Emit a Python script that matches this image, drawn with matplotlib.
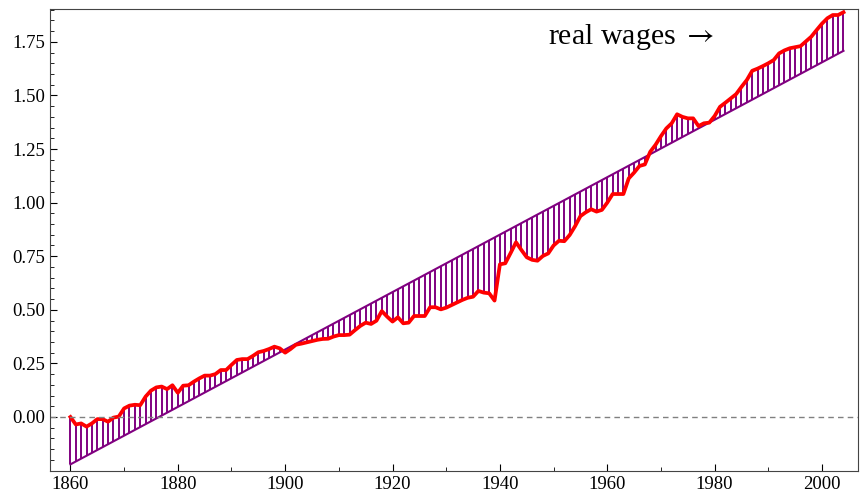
import numpy as np
import matplotlib.pyplot as plt
from matplotlib.ticker import MultipleLocator, FixedLocator

# log real wages (1860-2004)
years = np.arange(1860, 2005)
wages = [
    0.000, -0.035, -0.030, -0.045, -0.030, -0.010, -0.010, -0.022, -0.003, 0.002,
    0.040, 0.053, 0.057, 0.055, 0.095, 0.123, 0.138, 0.142, 0.130, 0.148,
    0.113, 0.146, 0.148, 0.165, 0.180, 0.193, 0.193, 0.200, 0.219, 0.219,
    0.243, 0.266, 0.270, 0.270, 0.285, 0.302, 0.308, 0.317, 0.328, 0.320,
    0.300, 0.317, 0.337, 0.342, 0.348, 0.354, 0.360, 0.364, 0.365, 0.375,
    0.382, 0.382, 0.384, 0.405, 0.425, 0.440, 0.434, 0.449, 0.494, 0.468,
    0.445, 0.465, 0.437, 0.440, 0.471, 0.471, 0.471, 0.512, 0.512, 0.502,
    0.510, 0.522, 0.534, 0.546, 0.556, 0.561, 0.588, 0.580, 0.577, 0.543,
    0.712, 0.717, 0.765, 0.815, 0.779, 0.745, 0.733, 0.729, 0.751, 0.763,
    0.800, 0.822, 0.820, 0.849, 0.890, 0.937, 0.955, 0.969, 0.958, 0.966,
    1.000, 1.040, 1.040, 1.040, 1.113, 1.140, 1.171, 1.178, 1.237, 1.270,
    1.310, 1.346, 1.370, 1.412, 1.400, 1.393, 1.393, 1.357, 1.370, 1.373,
    1.404, 1.447, 1.466, 1.486, 1.506, 1.540, 1.572, 1.615, 1.625, 1.637,
    1.650, 1.665, 1.696, 1.710, 1.720, 1.725, 1.730, 1.752, 1.774, 1.805,
    1.835, 1.860, 1.875, 1.875, 1.888,
]
trend_years = [1860, 2004]
trend_vals = [-0.221, 1.708]
ytick_vals = [0.0, 0.25, 0.5, 0.75, 1.0, 1.25, 1.5, 1.75]

plt.rcParams['font.family'] = ['Liberation Serif', 'DejaVu Serif']
plt.rcParams['mathtext.fontset'] = 'stix'

fig = plt.figure(figsize=(8.61, 4.93), dpi=100)
ax = fig.add_axes([0.0581, 0.0446, 0.9384, 0.9371])

trend = np.interp(years, trend_years, trend_vals)
ax.vlines(years, trend, wages, color='purple', lw=1.4)
ax.plot(trend_years, trend_vals, color='purple', lw=1.5)
ax.plot(years, wages, color='red', lw=2.7, solid_joinstyle='round')
ax.axhline(0, color='gray', ls='--', lw=1, dashes=(4, 3))

ax.text(1949, 1.772, 'real wages $\\rightarrow$', fontsize=21.5, va='center', ha='left')

ax.set_xlim(1856.2, 2006.7)
ax.set_ylim(-0.252, 1.903)
ax.xaxis.set_major_locator(MultipleLocator(20))
ax.xaxis.set_minor_locator(MultipleLocator(10))
ax.yaxis.set_major_locator(FixedLocator(ytick_vals))
ax.yaxis.set_minor_locator(MultipleLocator(0.05))
ax.yaxis.set_major_formatter(plt.FuncFormatter(lambda v, p: f'{v:.2f}'))
ax.tick_params(which='both', direction='in', labelsize=13.5, top=False, right=False)
ax.tick_params(which='major', length=5)
ax.tick_params(which='minor', length=3)
for s in ax.spines.values():
    s.set_linewidth(0.8)
    s.set_color('#444444')

fig.savefig('out.png', dpi=100)
